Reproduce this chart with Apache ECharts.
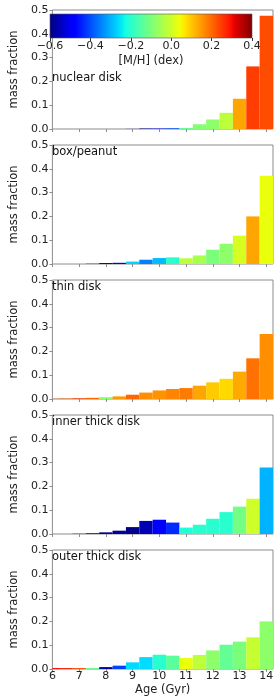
<!DOCTYPE html>
<html><head><meta charset="utf-8">
<script src="https://cdn.jsdelivr.net/npm/echarts@6/dist/echarts.min.js"></script>
<style>html,body{margin:0;padding:0;background:#fff}#c{width:280px;height:700px}</style>
</head><body><div id="c"></div><script>
// ---- data ----
const ages = [6,6.5,7,7.5,8,8.5,9,9.5,10,10.5,11,11.5,12,12.5,13,13.5,14];
const xTicks = [6,7,8,9,10,11,12,13,14];
const cbarTicks = [-0.6,-0.4,-0.2,0.0,0.2,0.4];
const panelNames = ['nuclear disk','box/peanut','thin disk','inner thick disk','outer thick disk'];

const nuclearMass = [0,0,0,0,0,0,0.0005,0.002,0.002,0.003,0.004,0.02,0.04,0.068,0.127,0.263,0.476];
const nuclearMH   = [0,0,0,0,0,0,-0.58,-0.58,-0.48,-0.4,-0.13,-0.09,-0.08,-0.02,0.135,0.245,0.23];

const boxMass = [0,0,0,0.001,0.004,0.005,0.01,0.018,0.025,0.028,0.024,0.036,0.06,0.085,0.119,0.2,0.371];
const boxMH   = [0,0,0,-0.55,-0.57,-0.51,-0.27,-0.35,-0.29,-0.2,-0.02,-0.045,-0.1,-0.08,0.01,0.135,0.035];

const thinMass = [0.001,0.002,0.003,0.005,0.008,0.011,0.018,0.027,0.036,0.042,0.046,0.056,0.07,0.085,0.115,0.171,0.273];
const thinMH   = [0.2,0.2,0.24,0.2,-0.08,0.15,0.2,0.16,0.155,0.17,0.18,0.135,0.095,0.08,0.13,0.19,0.16];

const innerMass = [0,0,0.001,0.003,0.007,0.014,0.029,0.055,0.06,0.048,0.027,0.039,0.064,0.092,0.115,0.148,0.279];
const innerMH   = [-0.58,-0.58,-0.58,-0.58,-0.58,-0.57,-0.59,-0.555,-0.48,-0.435,-0.21,-0.2,-0.2,-0.2,-0.11,0.0,-0.3];

const outerMass = [0.004,0.004,0.004,0.004,0.008,0.014,0.028,0.05,0.06,0.056,0.046,0.059,0.078,0.102,0.115,0.133,0.2];
const outerMH   = [0.3,0.28,0.22,-0.13,-0.57,-0.41,-0.26,-0.26,-0.2,-0.14,0.035,-0.02,-0.08,-0.13,-0.1,-0.01,-0.08];

const panelMass = [nuclearMass, boxMass, thinMass, innerMass, outerMass];
const panelMH = [nuclearMH, boxMH, thinMH, innerMH, outerMH];

// ---- jet colormap (matplotlib segment data) ----
const R=[[0,0],[0.35,0],[0.66,1],[0.89,1],[1,0.5]];
const G=[[0,0],[0.125,0],[0.375,1],[0.64,1],[0.91,0],[1,0]];
const B=[[0,0.5],[0.11,1],[0.34,1],[0.65,0],[1,0]];
function segv(t, p){
  if(t<=p[0][0]) return p[0][1];
  for(let i=0;i<p.length-1;i++){
    if(t<=p[i+1][0]){const f=(t-p[i][0])/(p[i+1][0]-p[i][0]);return p[i][1]+f*(p[i+1][1]-p[i][1]);}
  }
  return p[p.length-1][1];
}
const MHMIN=-0.6, MHMAX=0.4;
function jetT(t){
  t=Math.max(0,Math.min(1,t));
  return 'rgb('+Math.round(255*segv(t,R))+','+Math.round(255*segv(t,G))+','+Math.round(255*segv(t,B))+')';
}
function jet(v){return jetT((v-MHMIN)/(MHMAX-MHMIN));}

// ---- layout ----
const L=37, RIGHT=7, H=119, STEP=135, TOP0=10;
const FONT='DejaVu Sans';
const frame='#8c8c8c';
const TICKFS=11, LABFS=11.5;

const grids=[], xAxes=[], yAxes=[], series=[], titles=[];
for(let i=0;i<5;i++){
  const top=TOP0+i*STEP;
  grids.push({left:L,right:RIGHT,top:top,height:H,show:true,borderColor:frame,borderWidth:1,containLabel:false});
  const last = i===4;
  xAxes.push({
    type:'value',gridIndex:i,min:6,max:14.25,
    axisLine:{show:false},splitLine:{show:false},
    axisTick:{show:true,length:3,lineStyle:{color:frame},customValues:xTicks},
    axisLabel:{show:last,customValues:xTicks,fontFamily:FONT,fontSize:TICKFS,color:'#222',margin:2},
    name:last?'Age (Gyr)':'',nameLocation:'middle',nameGap:15,
    nameTextStyle:{fontFamily:FONT,fontSize:LABFS,color:'#222'}
  });
  yAxes.push({
    type:'value',gridIndex:i,min:0,max:0.5,interval:0.1,
    axisLine:{show:false},splitLine:{show:false},
    axisTick:{show:true,length:3,lineStyle:{color:frame}},
    axisLabel:{fontFamily:FONT,fontSize:TICKFS,color:'#222',margin:4,formatter:v=>v.toFixed(1)},
    name:'mass fraction',nameLocation:'middle',nameRotate:90,nameGap:24,
    nameTextStyle:{fontFamily:FONT,fontSize:LABFS,color:'#222'}
  });
  const data = ages.map((a,k)=>[a,panelMass[i][k],panelMH[i][k]]);
  series.push({
    type:'custom',xAxisIndex:i,yAxisIndex:i,data:data,encode:{x:0,y:1},
    renderItem:function(params,api){
      const x=api.value(0), y=api.value(1), c=api.value(2);
      if(!(y>0)) return;
      const p0=api.coord([x-0.25,y]), p1=api.coord([x+0.25,0]);
      const cs=params.coordSys;
      const r=echarts.graphic.clipRectByRect(
        {x:p0[0],y:p0[1],width:p1[0]-p0[0],height:p1[1]-p0[1]},
        {x:cs.x,y:cs.y,width:cs.width,height:cs.height});
      if(!r) return;
      return {type:'rect',shape:r,style:{fill:jet(c)}};
    },
    z:2,silent:true
  });
  titles.push({
    text:panelNames[i],left:52,top:(i===0?72:top+1),padding:0,
    textStyle:{fontFamily:FONT,fontSize:11.5,fontWeight:'normal',color:'#111'}
  });
}

// colorbar grid
grids.push({left:50,width:202,top:14,height:24,show:false});
xAxes.push({
  type:'value',gridIndex:5,min:-0.6,max:0.4,
  axisLine:{show:false},splitLine:{show:false},
  axisTick:{show:true,length:3,lineStyle:{color:'#333'},customValues:cbarTicks},
  axisLabel:{customValues:cbarTicks,fontFamily:FONT,fontSize:TICKFS,color:'#222',margin:3,
    formatter:v=>(v< -1e-9?'\u2212':'')+Math.abs(v).toFixed(1)},
  name:'[M/H] (dex)',nameLocation:'middle',nameGap:17,
  nameTextStyle:{fontFamily:FONT,fontSize:LABFS,color:'#222'}
});
yAxes.push({type:'value',gridIndex:5,min:0,max:1,show:false});
const stopsT=[0,0.11,0.125,0.34,0.35,0.375,0.5,0.64,0.65,0.66,0.89,0.91,1];
series.push({
  type:'custom',xAxisIndex:5,yAxisIndex:5,data:[[MHMIN,MHMAX]],encode:{x:[0,1]},
  renderItem:function(params,api){
    const p0=api.coord([api.value(0),1]), p1=api.coord([api.value(1),0]);
    return {type:'rect',shape:{x:p0[0],y:p0[1],width:p1[0]-p0[0],height:p1[1]-p0[1]},
      style:{fill:new echarts.graphic.LinearGradient(0,0,1,0,stopsT.map(t=>({offset:t,color:jetT(t)}))),
        stroke:'#555',lineWidth:0.6}};
  },
  z:5,silent:true
});

const chart=echarts.init(document.getElementById('c'),null,{renderer:'canvas'});
chart.setOption({
  animation:false,backgroundColor:'#fff',
  title:titles,grid:grids,xAxis:xAxes,yAxis:yAxes,series:series
});
</script></body></html>
